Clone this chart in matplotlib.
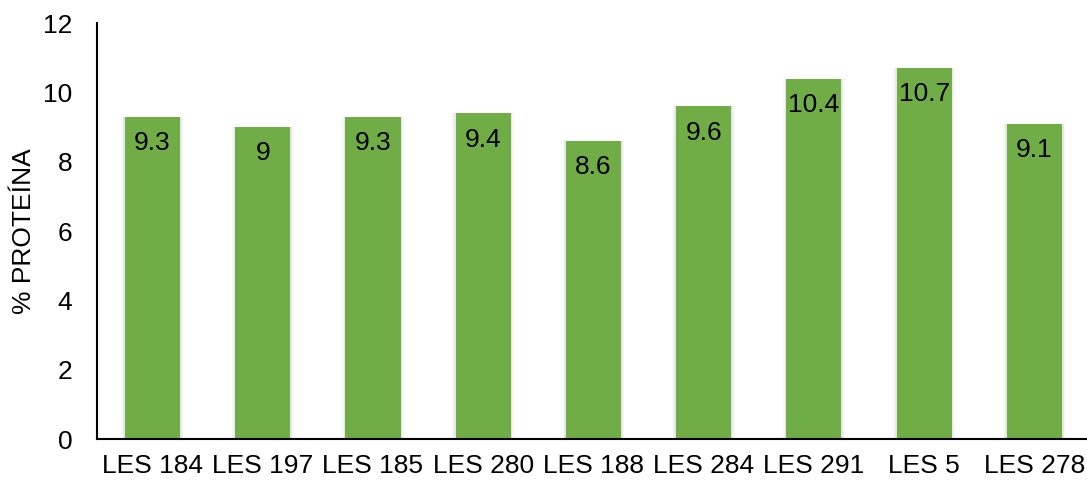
import matplotlib.pyplot as plt
import numpy as np

plt.rcParams['font.family'] = ['Liberation Sans', 'DejaVu Sans']

lines = ['LES 184', 'LES 197', 'LES 185', 'LES 280', 'LES 188', 'LES 284', 'LES 291', 'LES 5', 'LES 278']
protein = [9.3, 9.0, 9.3, 9.4, 8.6, 9.6, 10.4, 10.7, 9.1]
value_labels = ['9.3', '9', '9.3', '9.4', '8.6', '9.6', '10.4', '10.7', '9.1']
yticks = [0, 2, 4, 6, 8, 10, 12]

fig = plt.figure(figsize=(10.87, 4.82), dpi=100)
ax = fig.add_axes([0.0896, 0.0892, 0.9127, 0.863])

x = np.arange(len(lines))
# soft shadow behind bars
for w, a in [(0.56, 0.07), (0.53, 0.12)]:
    ax.bar(x, protein, width=w, color='#808080', alpha=a, zorder=1)
bars = ax.bar(x, protein, width=0.5, color='#70AD47', zorder=2)

for xi, v, lab in zip(x, protein, value_labels):
    ax.annotate(lab, (xi, v), xytext=(0, -19), textcoords='offset points',
                ha='center', va='center', fontsize=19, color='black', zorder=3)

ax.set_xlim(-0.5, len(lines) - 0.5)
ax.set_ylim(0, 12)
ax.set_yticks(yticks)
ax.set_yticklabels([str(t) for t in yticks])
ax.set_xticks(x)
ax.set_xticklabels(lines)
ax.tick_params(axis='both', length=0, labelsize=19)
ax.tick_params(axis='y', pad=18)
ax.tick_params(axis='x', pad=11)
ax.set_ylabel('% PROTEÍNA', fontsize=19, labelpad=5)

for s in ['top', 'right']:
    ax.spines[s].set_visible(False)
ax.spines['left'].set_linewidth(1.5)
ax.spines['bottom'].set_linewidth(1.5)

fig.savefig('out.png', dpi=100)
